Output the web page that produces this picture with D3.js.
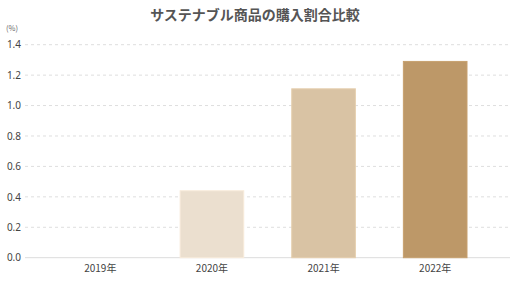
<!DOCTYPE html>
<html>
<head>
<meta charset="utf-8">
<script src="https://cdn.jsdelivr.net/npm/d3@7"></script>
<style>
  body { margin: 0; background: #fff; }
  text { font-family: "Noto Sans CJK JP", "Noto Sans", sans-serif; }
</style>
</head>
<body>
<svg id="chart"></svg>
<script>
const years = ['2019年', '2020年', '2021年', '2022年'];
const values = [0, 0.44, 1.11, 1.29];
const barColors = ['#ebdfcf', '#ebdfcf', '#d9c3a4', '#bd9868'];
const yTicks = [0, 0.2, 0.4, 0.6, 0.8, 1.0, 1.2, 1.4];

const width = 510, height = 287;
const svg = d3.select('#chart').attr('width', width).attr('height', height);

const x = d3.scaleBand().domain(years).range([44.5, 491]).paddingInner(0.43).paddingOuter(0.215);
const y = d3.scaleLinear().domain([0, 1.4]).range([257.7, 44.7]);

svg.append('text')
  .attr('x', 255).attr('y', 20)
  .attr('text-anchor', 'middle')
  .attr('font-size', 14).attr('font-weight', 'bold')
  .attr('fill', '#555')
  .text('サステナブル商品の購入割合比較');

svg.append('text')
  .attr('x', 6).attr('y', 31)
  .attr('font-size', 7.5).attr('fill', '#666')
  .text('(%)');

// grid
svg.append('g').selectAll('line')
  .data(yTicks.filter(d => d > 0))
  .join('line')
  .attr('x1', 25).attr('x2', 510)
  .attr('y1', d => y(d)).attr('y2', d => y(d))
  .attr('stroke', '#dedede').attr('stroke-dasharray', '3,3');

svg.append('line')
  .attr('x1', 25).attr('x2', 510)
  .attr('y1', y(0)).attr('y2', y(0))
  .attr('stroke', '#dcdcdc');

const yAxis = svg.append('g')
  .attr('transform', 'translate(21,0)')
  .call(d3.axisLeft(y).tickValues(yTicks).tickFormat(d3.format('.1f')).tickSize(0).tickPadding(0));
yAxis.select('.domain').remove();
yAxis.selectAll('text').attr('font-size', 10).attr('fill', '#444')
  .style('font-family', '"Noto Sans", sans-serif');

svg.append('g').selectAll('rect')
  .data(years.map((d, i) => ({ year: d, value: values[i], color: barColors[i] })).filter(d => d.value > 0))
  .join('rect')
  .attr('x', d => x(d.year))
  .attr('y', d => y(d.value))
  .attr('width', x.bandwidth())
  .attr('height', d => y(0) - y(d.value))
  .attr('fill', d => d.color)
  .attr('stroke', d => d3.color(d.color).brighter(0.15))
  .attr('stroke-width', 1);

const xAxis = svg.append('g')
  .attr('transform', `translate(0,${y(0)})`)
  .call(d3.axisBottom(x).tickSize(0).tickPadding(7));
xAxis.select('.domain').remove();
xAxis.selectAll('text').attr('font-size', 10).attr('fill', '#444')
  .style('font-family', '"Noto Sans CJK JP", sans-serif');
</script>
</body>
</html>
